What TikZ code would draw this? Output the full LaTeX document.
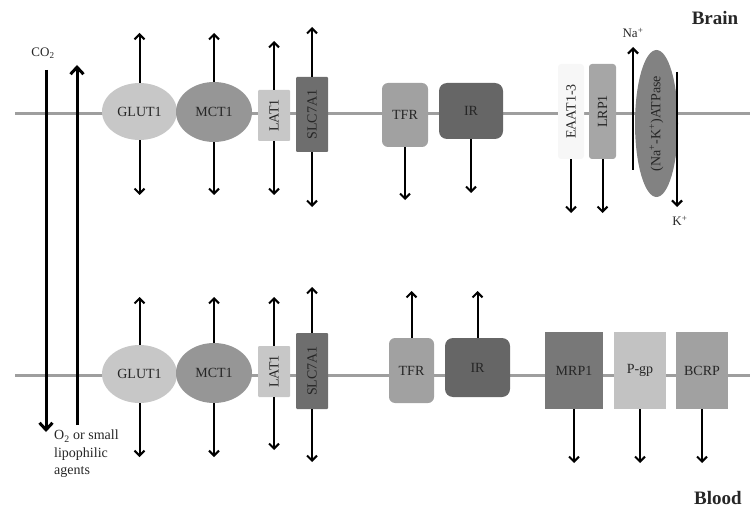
\documentclass[tikz,border=0pt]{standalone}
\usepackage{fontspec}
\usepackage{graphicx}
\setmainfont{Liberation Serif}
\usetikzlibrary{arrows.meta,shapes.geometric}
\begin{document}
\begin{tikzpicture}[x=1pt,y=-1pt,
  memb/.style={draw=black!38, line width=3pt},
  prot/.style={inner sep=0pt, text=black!85, font=\fontsize{14}{16}\selectfont},
  ell/.style={prot, ellipse},
  box/.style={prot, rectangle},
  arr/.style={line width=2pt, -{Straight Barb[length=5pt,width=10pt]}},
  thick arr/.style={line width=3pt, -{Straight Barb[length=7pt,width=13pt]}},
  ion arr/.style={line width=2.2pt, -{Straight Barb[length=5pt,width=10pt]}},
  lbl/.style={inner sep=0pt, text=black!85, font=\fontsize{13}{15}\selectfont},
  side/.style={inner sep=0pt, text=black!85, font=\fontsize{19}{22}\selectfont\bfseries}
]
\useasboundingbox (0,0) rectangle (750,508);
% membranes
\coordinate (mTL) at (15,114); \coordinate (mTR) at (750,114);
\coordinate (mBL) at (15,375); \coordinate (mBR) at (750,375);
\draw[memb] (mTL) -- (mTR);
\draw[memb] (mBL) -- (mBR);

% ---------- top (brain side) ----------
\node[ell, fill=black!22, minimum width=75pt, minimum height=57pt] (glutT) at (139.5,111.5) {GLUT1};
\node[ell, fill=black!41, minimum width=76pt, minimum height=60pt] (mctT) at (214,112) {MCT1};
\node[box, fill=black!22, minimum width=32pt, minimum height=51pt, rounded corners=1pt] (latT) at (274,115.5) {\rotatebox{90}{LAT1}};
\node[box, fill=black!57, minimum width=32pt, minimum height=75pt, rounded corners=1pt] (slcT) at (312,114.5) {\rotatebox{90}{SLC7A1}};
\node[box, fill=black!37, minimum width=46pt, minimum height=64pt, rounded corners=6pt] (tfrT) at (405,115) {TFR};
\node[box, fill=black!60, minimum width=64pt, minimum height=56pt, rounded corners=8pt] (irT) at (471,111) {IR};
\node[box, fill=black!3, minimum width=26pt, minimum height=95pt, rounded corners=3pt] (eaatT) at (571,111.5) {\rotatebox{90}{EAAT1-3}};
\node[box, fill=black!35, minimum width=27pt, minimum height=95pt, rounded corners=3pt] (lrpT) at (602.5,111.5) {\rotatebox{90}{LRP1}};
\node[ell, fill=black!49, minimum width=43pt, minimum height=147pt] (atpT) at (656.5,123.5) {\rotatebox{90}{(Na\textsuperscript{+}-K\textsuperscript{+})ATPase}};

\coordinate (glutTu) at (139.5,33);  \coordinate (glutTd) at (139.5,195);
\coordinate (mctTu) at (214,33);     \coordinate (mctTd) at (214,195);
\coordinate (latTu) at (274,41);     \coordinate (latTd) at (274,195);
\coordinate (slcTu) at (312,27);     \coordinate (slcTd) at (312,207);
\coordinate (tfrTd) at (405,200);
\coordinate (irTd) at (471,193);
\coordinate (eaatTd) at (571,213);
\coordinate (lrpTd) at (602.5,213);
\draw[arr] (glutT) -- (glutTu); \draw[arr] (glutT) -- (glutTd);
\draw[arr] (mctT) -- (mctTu);   \draw[arr] (mctT) -- (mctTd);
\draw[arr] (latT) -- (latTu);   \draw[arr] (latT) -- (latTd);
\draw[arr] (slcT) -- (slcTu);   \draw[arr] (slcT) -- (slcTd);
\draw[arr] (tfrT) -- (tfrTd);
\draw[arr] (irT) -- (irTd);
\draw[arr] (eaatT) -- (eaatTd);
\draw[arr] (lrpT) -- (lrpTd);

% Na/K pump ions
\coordinate (naS) at (633,170); \coordinate (naE) at (633,47);
\coordinate (kS) at (677,72);   \coordinate (kE) at (677,207);
\draw[ion arr] (naS) -- (naE);
\draw[ion arr] (kS) -- (kE);
\node[lbl] (na) at (633,33) {Na\textsuperscript{+}};
\node[lbl] (k) at (680,221) {K\textsuperscript{+}};

% ---------- bottom (blood side) ----------
\node[ell, fill=black!22, minimum width=75pt, minimum height=58pt] (glutB) at (139.5,374) {GLUT1};
\node[ell, fill=black!41, minimum width=76pt, minimum height=60pt] (mctB) at (214,373) {MCT1};
\node[box, fill=black!22, minimum width=32pt, minimum height=51pt, rounded corners=1pt] (latB) at (274,371.5) {\rotatebox{90}{LAT1}};
\node[box, fill=black!57, minimum width=32pt, minimum height=76pt, rounded corners=1pt] (slcB) at (312,371) {\rotatebox{90}{SLC7A1}};
\node[box, fill=black!37, minimum width=45pt, minimum height=65pt, rounded corners=6pt] (tfrB) at (411.5,370.5) {TFR};
\node[box, fill=black!60, minimum width=65pt, minimum height=59pt, rounded corners=8pt] (irB) at (477.5,367.5) {IR};
\node[box, fill=black!53, minimum width=58pt, minimum height=77pt] (mrpB) at (574,370.5) {MRP1};
\node[box, fill=black!24, minimum width=52pt, minimum height=77pt] (pgpB) at (640,370.5) {P-gp};
\node[box, fill=black!37, minimum width=52pt, minimum height=77pt] (bcrpB) at (702,370.5) {BCRP};

\coordinate (glutBu) at (139.5,297); \coordinate (glutBd) at (139.5,457);
\coordinate (mctBu) at (214,297);    \coordinate (mctBd) at (214,457);
\coordinate (latBu) at (274,297);    \coordinate (latBd) at (274,450);
\coordinate (slcBu) at (312,287);    \coordinate (slcBd) at (312,462);
\coordinate (tfrBu) at (411.5,291);
\coordinate (irBu) at (477.5,291);
\coordinate (mrpBd) at (574,463);
\coordinate (pgpBd) at (640,463);
\coordinate (bcrpBd) at (702,463);
\draw[arr] (glutB) -- (glutBu); \draw[arr] (glutB) -- (glutBd);
\draw[arr] (mctB) -- (mctBu);   \draw[arr] (mctB) -- (mctBd);
\draw[arr] (latB) -- (latBu);   \draw[arr] (latB) -- (latBd);
\draw[arr] (slcB) -- (slcBu);   \draw[arr] (slcB) -- (slcBd);
\draw[arr] (tfrB) -- (tfrBu);
\draw[arr] (irB) -- (irBu);
\draw[arr] (mrpB) -- (mrpBd);
\draw[arr] (pgpB) -- (pgpBd);
\draw[arr] (bcrpB) -- (bcrpBd);

% ---------- passive diffusion ----------
\coordinate (co2S) at (46,70);  \coordinate (co2E) at (46,432);
\coordinate (o2S) at (77,425);  \coordinate (o2E) at (77,65);
\draw[thick arr] (co2S) -- (co2E);
\draw[thick arr] (o2S) -- (o2E);
\node[lbl] (co2) at (43,53) {CO\textsubscript{2}};
\node[lbl, anchor=north west, align=left, font=\fontsize{14}{17.5}\selectfont] (o2) at (54,430)
  {O\textsubscript{2} or small\\lipophilic\\agents};

% ---------- sides ----------
\node[side, anchor=base] (brain) at (715,25) {Brain};
\node[side, anchor=base] (blood) at (718,504) {Blood};
\end{tikzpicture}
\end{document}
